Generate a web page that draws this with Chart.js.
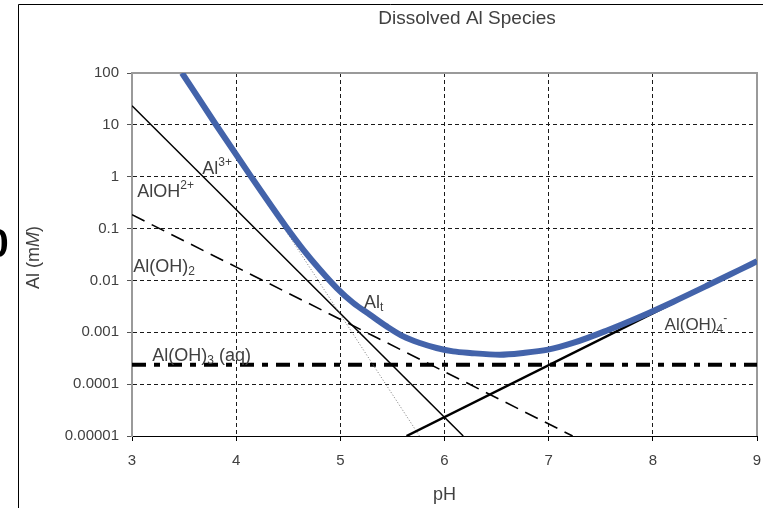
<!DOCTYPE html>
<html>
<head>
<meta charset="utf-8">
<script src="https://cdn.jsdelivr.net/npm/chart.js@4/dist/chart.umd.min.js"></script>
<style>
  html, body { margin: 0; padding: 0; background: #fff; }
  #wrap { width: 763px; height: 508px; position: relative; }
</style>
</head>
<body>
<div id="wrap"><canvas id="c" width="763" height="508"></canvas></div>
<script>
// ---------------- data ----------------
const xTicks = [3, 4, 5, 6, 7, 8, 9];
const xTickLabels = ['3', '4', '5', '6', '7', '8', '9'];
const yTicks = [0.00001, 0.0001, 0.001, 0.01, 0.1, 1, 10, 100];
const yTickLabels = ['0.00001', '0.0001', '0.001', '0.01', '0.1', '1', '10', '100'];

// Total dissolved Al (blue curve)
const pH_Alt = [3.48, 3.80, 4.13, 4.47, 4.645, 4.805, 4.966, 5.125, 5.285, 5.445, 5.604, 5.764,
                5.924, 6.083, 6.244, 6.531, 6.755, 6.994, 7.234, 7.554, 7.873, 8.193, 8.513, 8.832, 9.0];
const Al_t = [100, 10.5, 1.1, 0.115, 0.039, 0.0161, 0.00714, 0.00367, 0.00218, 0.0013, 0.000834, 0.000622,
              0.000498, 0.000428, 0.000399, 0.00037, 0.000399, 0.000462, 0.000622, 0.00107, 0.00197,
              0.00385, 0.00779, 0.016, 0.0234];

// Species (straight lines on the log plot: end points)
const pH_Al3 = [3.49, 5.76];
const Al3 = [100, 0.00001];
const pH_AlOH = [3.0, 6.18];
const AlOH = [23.4, 0.00001];
const pH_AlOH2 = [3.0, 7.23];
const AlOH2 = [0.185, 0.00001];
const pH_AlOH3 = [3.0, 9.0];
const AlOH3 = [0.000237, 0.000237];
const pH_AlOH4 = [5.635, 9.0];
const AlOH4 = [0.00001, 0.0232];

// ---------------- build ----------------
const pts = (xs, ys) => xs.map((x, i) => ({ x: x, y: ys[i] }));
const FONT = "'Liberation Sans', Arial, sans-serif";
const TXT = '#404040';

// in-plot labels, positioned in data units (pH, mM) of the text's left baseline
const annotations = [
  { x: 3.674, y: 1.14,     size: 18, parts: [['Al', 'n'], ['3+', 'sup']] },
  { x: 3.051, y: 0.41,     size: 18, parts: [['AlOH', 'n'], ['2+', 'sup']] },
  { x: 3.012, y: 0.0147,   size: 18, parts: [['Al(OH)', 'n'], ['2', 'sub']] },
  { x: 3.195, y: 0.000284, size: 18, parts: [['Al(OH)', 'n'], ['3', 'sub'], [' (aq)', 'n']] },
  { x: 5.227, y: 0.00298,  size: 18, parts: [['Al', 'n'], ['t', 'sub']] },
  { x: 8.113, y: 0.001125, size: 17, parts: [['Al(OH)', 'n'], ['4', 'sub'], ['-', 'sup']] }
];

function drawRich(ctx, x, y, size, parts) {
  let cx = x;
  ctx.textBaseline = 'alphabetic';
  ctx.textAlign = 'left';
  for (const [t, k] of parts) {
    let fs = size, dy = 0;
    if (k === 'sup') { fs = Math.round(size * 0.68); dy = -size * 0.42; }
    if (k === 'sub') { fs = Math.round(size * 0.68); dy = size * 0.2; }
    ctx.font = fs + 'px ' + FONT;
    ctx.fillText(t, cx, y + dy);
    cx += ctx.measureText(t).width;
  }
}

const decorPlugin = {
  id: 'decor',
  beforeDraw(chart) {
    const ctx = chart.ctx;
    ctx.save();
    ctx.fillStyle = '#fff';
    ctx.fillRect(0, 0, chart.width, chart.height);
    ctx.restore();
  },
  beforeDatasetsDraw(chart) {
    const { ctx, chartArea: a } = chart;
    ctx.save();
    ctx.strokeStyle = '#9a9a9a';
    ctx.lineWidth = 2;
    ctx.beginPath();
    ctx.moveTo(a.left, a.top);
    ctx.lineTo(a.right, a.top);
    ctx.lineTo(a.right, a.bottom);
    ctx.stroke();
    ctx.restore();
  },
  afterDraw(chart) {
    const { ctx, chartArea: a, scales } = chart;
    const xs = scales.x, ys = scales.y;
    ctx.save();
    // outer frame
    ctx.strokeStyle = '#000';
    ctx.lineWidth = 1;
    ctx.beginPath();
    ctx.moveTo(763, 4.5);
    ctx.lineTo(18.5, 4.5);
    ctx.lineTo(18.5, 508);
    ctx.stroke();
    // clipped glyph at the far left
    ctx.fillStyle = '#000';
    ctx.font = 'bold 40px ' + FONT;
    ctx.textAlign = 'left';
    ctx.textBaseline = 'alphabetic';
    ctx.fillText('0', -13.5, 257);

    ctx.fillStyle = TXT;
    // title
    ctx.font = '19px ' + FONT;
    ctx.textAlign = 'center';
    ctx.fillText('Dissolved Al Species', 467, 24);
    // x title
    ctx.font = '18px ' + FONT;
    ctx.fillText('pH', (a.left + a.right) / 2, 500);
    // y title (rotated, italic M)
    ctx.save();
    ctx.translate(39, 257.5);
    ctx.rotate(-Math.PI / 2);
    const p1 = 'Al (m', p2 = 'M', p3 = ')';
    ctx.font = '18px ' + FONT;
    const w1 = ctx.measureText(p1).width, w3 = ctx.measureText(p3).width;
    ctx.font = 'italic 18px ' + FONT;
    const w2 = ctx.measureText(p2).width;
    let sx = -(w1 + w2 + w3) / 2;
    ctx.textAlign = 'left';
    ctx.font = '18px ' + FONT;
    ctx.fillText(p1, sx, 0);
    ctx.font = 'italic 18px ' + FONT;
    ctx.fillText(p2, sx + w1, 0);
    ctx.font = '18px ' + FONT;
    ctx.fillText(p3, sx + w1 + w2, 0);
    ctx.restore();
    // in-plot labels
    for (const an of annotations) {
      drawRich(ctx, xs.getPixelForValue(an.x), ys.getPixelForValue(an.y), an.size, an.parts);
    }
    ctx.restore();
  }
};

const chart = new Chart(document.getElementById('c'), {
  type: 'scatter',
  data: {
    datasets: [
      { label: 'Alt', data: pts(pH_Alt, Al_t), showLine: true, borderColor: '#4363AA',
        borderWidth: 6, pointRadius: 0, cubicInterpolationMode: 'monotone', borderCapStyle: 'butt' },
      { label: 'Al(OH)4-', data: pts(pH_AlOH4, AlOH4), showLine: true, borderColor: '#000',
        borderWidth: 2.5, pointRadius: 0 },
      { label: 'Al3+', data: pts(pH_Al3, Al3), showLine: true, borderColor: '#7a7a7a',
        borderWidth: 1, borderDash: [1, 2], pointRadius: 0 },
      { label: 'AlOH2+', data: pts(pH_AlOH, AlOH), showLine: true, borderColor: '#000',
        borderWidth: 1.5, pointRadius: 0 },
      { label: 'Al(OH)2+', data: pts(pH_AlOH2, AlOH2), showLine: true, borderColor: '#000',
        borderWidth: 1.6, borderDash: [14, 8], pointRadius: 0 },
      { label: 'Al(OH)3', data: pts(pH_AlOH3, AlOH3), showLine: true, borderColor: '#000',
        borderWidth: 4, borderDash: [14, 8, 6, 8], pointRadius: 0 }
    ]
  },
  options: {
    responsive: false,
    animation: false,
    events: [],
    layout: { padding: { top: 73, right: 6, left: 0, bottom: 0 } },
    plugins: { legend: { display: false }, tooltip: { enabled: false }, title: { display: false } },
    scales: {
      x: {
        type: 'linear', min: 3, max: 9, position: 'bottom',
        afterBuildTicks: s => { s.ticks = xTicks.map(v => ({ value: v })); },
        afterFit: s => { s.height = 72; s.paddingLeft = 0; s.paddingRight = 0; },
        ticks: { autoSkip: false, maxRotation: 0, padding: 11, color: TXT,
                 font: { family: FONT, size: 15 },
                 callback: (v, i) => xTickLabels[i] },
        grid: { color: c => (c.tick && (c.tick.value === 3 || c.tick.value === 9)) ? 'rgba(0,0,0,0)' : '#1a1a1a',
                lineWidth: 1, tickLength: 5, tickColor: '#000', drawTicks: true },
        border: { display: true, color: '#000', width: 1, dash: [4, 3] }
      },
      y: {
        type: 'logarithmic', min: 0.00001, max: 100, position: 'left',
        afterBuildTicks: s => { s.ticks = yTicks.map(v => ({ value: v, major: true })); },
        afterFit: s => { s.width = 132; s.paddingTop = 0; s.paddingBottom = 0; },
        ticks: { autoSkip: false, padding: 8, color: TXT,
                 font: { family: FONT, size: 15 },
                 callback: (v, i) => yTickLabels[i] },
        grid: { color: c => (c.tick && (c.tick.value === 100 || c.tick.value === 0.00001)) ? 'rgba(0,0,0,0)' : '#1a1a1a',
                lineWidth: 1, tickLength: 5, tickColor: '#555', drawTicks: true },
        border: { display: true, color: '#9a9a9a', width: 2, dash: [4, 3] }
      }
    }
  },
  plugins: [decorPlugin]
});
</script>
</body>
</html>
